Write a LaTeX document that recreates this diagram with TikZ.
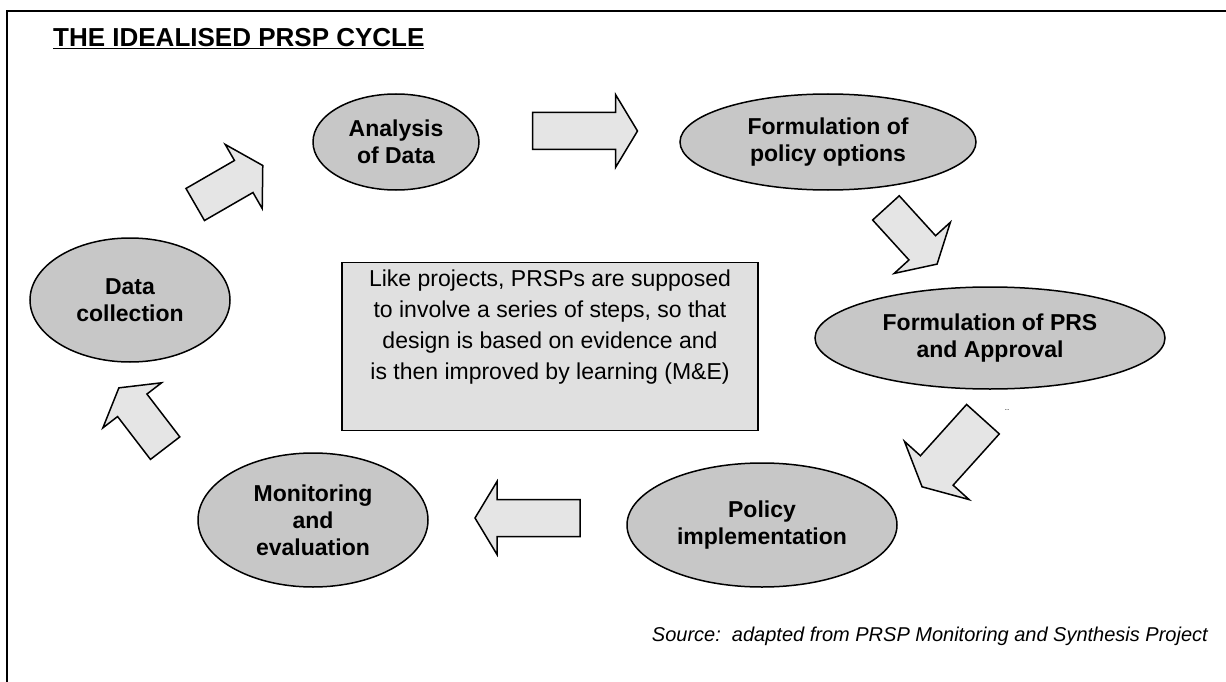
\documentclass[tikz,border=0pt]{standalone}
\usepackage{fontspec}
\setmainfont{Liberation Sans}
\usetikzlibrary{shapes,positioning,calc}

\definecolor{ovalgray}{gray}{0.78}
\definecolor{arrowgray}{gray}{0.9}
\definecolor{notegray}{gray}{0.88}

% block arrow: centre, angle, half length, half shaft, half head
\newcommand{\cyclearrow}[5]{%
  \draw[arrowbox, shift={#1}, rotate=#2]
    (-#3,-#4) -- ({#3-22},-#4) -- ({#3-22},-#5) -- (#3,0)
    -- ({#3-22},#5) -- ({#3-22},#4) -- (-#3,#4) -- cycle;}

\begin{document}
\begin{tikzpicture}[x=1pt, y=-1pt,
    stage/.style={draw, ellipse, line width=1.5pt, fill=ovalgray, inner sep=0pt,
      align=center, font=\bfseries\fontsize{23}{27}\selectfont},
    arrowbox/.style={draw, line width=1.5pt, fill=arrowgray, line join=miter},
    notebox/.style={draw, line width=1.2pt, fill=notegray}]
            \useasboundingbox (0,0) rectangle (1226,682);

            % Frame and title
            \draw[line width=1.2pt] (7,682) -- (7,11) -- (1226,11);
            \node[anchor=base west, inner sep=0pt, font=\bfseries\fontsize{26}{30}\selectfont] (title) at (53,47) {\underline{THE IDEALISED PRSP CYCLE}};

            % Stages of the cycle
            \node[stage, minimum width=166pt, minimum height=96pt] (analysis) at (396,142) {Analysis\\of Data};
            \node[stage, minimum width=296pt, minimum height=96pt] (options) at (828,142) {Formulation of\\policy options};
            \node[stage, minimum width=350pt, minimum height=102pt] (approval) at (990,338) {Formulation of PRS\\and Approval};
            \node[stage, minimum width=270pt, minimum height=124pt] (implement) at (762,525) {Policy\\implementation};
            \node[stage, minimum width=230pt, minimum height=134pt] (monitor) at (313,520) {Monitoring\\and\\evaluation};
            \node[stage, minimum width=200pt, minimum height=124pt] (collect) at (130,300) {Data\\collection};

            % Block arrows between the stages
            \cyclearrow{(229,185)}{30}{39}{18.5}{37}
            \cyclearrow{(585,131)}{0}{52.5}{18.5}{36.5}
            \cyclearrow{(911.5,236)}{-47.7}{38}{18}{38}
            \cyclearrow{(952.5,453)}{228}{45.5}{22}{43.5}
            \cyclearrow{(527.5,518)}{180}{52.5}{18.5}{36.5}
            \cyclearrow{(142,418)}{127.5}{38}{18.5}{37}

            % Note in the middle
            \node[notebox, minimum width=416pt, minimum height=168pt, anchor=north] (note) at (550,262) {};
            \node[anchor=north, align=center, font=\fontsize{23}{31}\selectfont] (notetext) at (550,266) {Like projects, PRSPs are supposed\\to involve a series of steps, so that\\design is based on evidence and\\is then improved by learning (M\&E)};

            \node[font=\fontsize{8}{8}\selectfont, inner sep=0pt] (dots) at (1007,410) {..};

            % Source line
            \node[anchor=base east, inner sep=0pt, font=\itshape\fontsize{20}{24}\selectfont] (source) at (1208,641) {Source:\ \ adapted from PRSP Monitoring and Synthesis Project};
        \end{tikzpicture}
\end{document}
